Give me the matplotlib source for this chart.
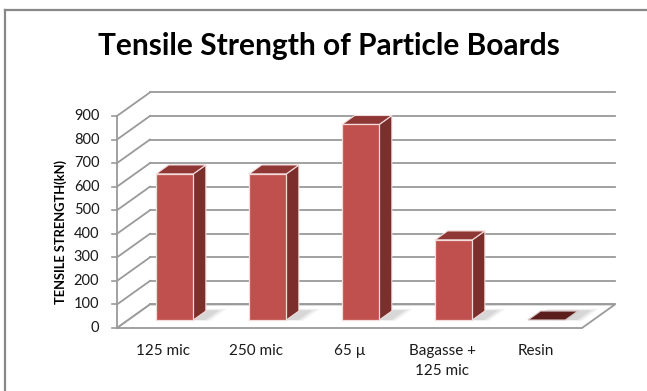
import numpy as np
import matplotlib
matplotlib.use('Agg')
import matplotlib.pyplot as plt
from matplotlib.patches import Polygon
from matplotlib.lines import Line2D

plt.rcParams['font.family'] = ['Lato', 'DejaVu Sans']

# ─── Données ─────────────────────────────────────────────────────────────
categories = ['125 mic', '250 mic', '65 µ', 'Bagasse +\n125 mic', 'Resin']
values = [620, 620, 830, 340, 0]
yticks = [0, 100, 200, 300, 400, 500, 600, 700, 800, 900]

# ─── Pseudo-3D (projection oblique) ──────────────────────────────────────
DX, DY = 0.355, 100.0       # décalage profondeur (unités catégorie, unités valeur)
D0, D1 = 0.34, 0.72         # profondeur de la barre
HW = 0.2                    # demi-largeur de barre
c_front, c_side, c_top = '#C0504D', '#7B2F2D', '#8E3735'
c_grid = '#9a9a9a'

def P(x, y, d):
    return (x + d * DX, y + d * DY)

fig = plt.figure(figsize=(6.47, 3.91), dpi=100)
ax = fig.add_axes([0, 0, 1, 1])
ax.set_xlim(-1.758, 5.199)
ax.set_ylim(-267.4, 1392.2)
ax.axis('off')

n = len(categories)
xl, xr = -0.5, n - 0.5

# mur du fond + mur gauche
for v in yticks:
    a, b = P(xl, v, 1), P(xr, v, 1)
    ax.plot([a[0], b[0]], [a[1], b[1]], color=c_grid, lw=1.3, zorder=1)
    a, b = P(xl, v, 0), P(xl, v, 1)
    ax.plot([a[0], b[0]], [a[1], b[1]], color=c_grid, lw=1.3, zorder=1)
    ax.plot([xl - 0.055, xl], [v, v], color=c_grid, lw=1.2, zorder=2)
    ax.text(xl - 0.19, v, str(v), ha='right', va='center', fontsize=10.5, color='#1a1a1a')

# sol
fl = [P(xl, 0, 0), P(xr, 0, 0), P(xr, 0, 1), P(xl, 0, 1)]
ax.add_patch(Polygon(fl, closed=True, facecolor='white', edgecolor=c_grid, lw=1.3, zorder=1.5))
ax.plot([xl, xl], [0, yticks[-1]], color=c_grid, lw=1.3, zorder=2)

# barres
for i, v in enumerate(values):
    x0, x1 = i - HW, i + HW
    # ombre sur le sol
    for k, a in enumerate([0.10, 0.12, 0.16]):
        g = 0.09 - 0.03 * k
        sh = [P(x0 - g * 0.3, 0, D0 + 0.02), P(x1 + 0.10 + g, 0, D0 - g * 0.3),
              P(x1 + 0.10 + g, 0, D1 + g), P(x0 + 0.05, 0, D1 + g)]
        ax.add_patch(Polygon(sh, closed=True, facecolor='#8a8a8a', edgecolor='none', alpha=a, zorder=3))
    if v == 0:
        top = [P(x0, 0, D0), P(x1, 0, D0), P(x1, 0, D1), P(x0, 0, D1)]
        ax.add_patch(Polygon(top, closed=True, facecolor='#5b1e1d', edgecolor='#d8c4c3', lw=0.8, zorder=4))
        continue
    front = [P(x0, 0, D0), P(x1, 0, D0), P(x1, v, D0), P(x0, v, D0)]
    side = [P(x1, 0, D0), P(x1, 0, D1), P(x1, v, D1), P(x1, v, D0)]
    top = [P(x0, v, D0), P(x1, v, D0), P(x1, v, D1), P(x0, v, D1)]
    ax.add_patch(Polygon(side, closed=True, facecolor=c_side, edgecolor='#f2dddc', lw=0.8, zorder=4))
    ax.add_patch(Polygon(top, closed=True, facecolor=c_top, edgecolor='#f2dddc', lw=0.8, zorder=4))
    ax.add_patch(Polygon(front, closed=True, facecolor=c_front, edgecolor='#f2dddc', lw=0.9, zorder=5))

# étiquettes catégories
for i, c in enumerate(categories):
    ax.text(i, -68, c, ha='center', va='top', fontsize=11, color='#1a1a1a', linespacing=1.55)

ax.text(-1.102, 407, 'TENSILE STRENGTH(kN)', rotation=90, ha='center', va='center',
        fontsize=9.3, fontweight='bold', color='black')

fig.text(0.508, 1 - 55 / 391, 'Tensile Strength of Particle Boards', ha='center', va='baseline',
         fontsize=21.5, fontweight='bold', color='black')

# cadre
fig.add_artist(Line2D([5 / 647, 5 / 647], [0, 1 - 10 / 391], color='#888888', lw=1.6))
fig.add_artist(Line2D([5 / 647, 1], [1 - 10 / 391, 1 - 10 / 391], color='#888888', lw=1.6))

fig.savefig('out.png', dpi=100)
